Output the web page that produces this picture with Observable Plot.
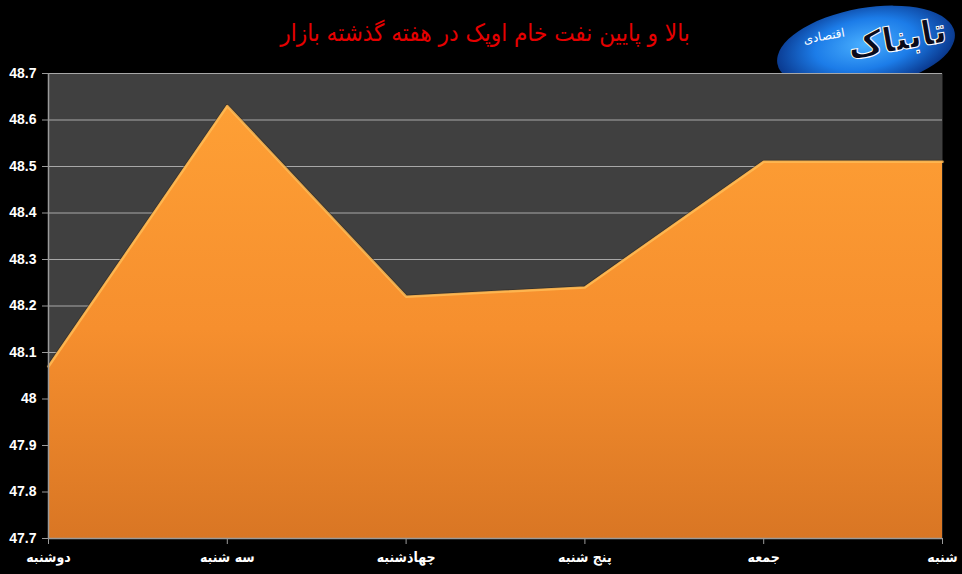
<!DOCTYPE html>
<html>
<head>
<meta charset="utf-8">
<script src="https://cdn.jsdelivr.net/npm/d3@7"></script>
<script src="https://cdn.jsdelivr.net/npm/@observablehq/plot@0.6"></script>
<style>
  html, body { margin: 0; padding: 0; background: #000; }
  #wrap { position: relative; width: 962px; height: 574px; background: #000; overflow: hidden; }
  #title { position: absolute; left: 0; top: 0; width: 962px; height: 55px; text-align: center;
    color: #e60000; font-family: "DejaVu Sans Condensed", "DejaVu Sans", sans-serif; font-size: 24px;
    line-height: 66px; direction: rtl; z-index: 2; }
  #title span { position: relative; left: 4px; }
  #logo { position: absolute; left: 776px; top: 8px; width: 180px; height: 80px; border-radius: 50%;
    background: radial-gradient(ellipse at 50% 45%, #4ab0ff 0%, #1c7ce8 40%, #0b3d94 70%, rgba(0,0,0,0) 100%);
    transform: rotate(-10deg); z-index: 0; }
  #logo .big { position: absolute; right: 8px; top: 16px; font-family: "DejaVu Sans", sans-serif; font-weight: bold;
    font-size: 34px; color: #0a0a1a; -webkit-text-stroke: 1px #ffffff; direction: rtl; }
  #logo .small { position: absolute; left: 30px; top: 14px; font-family: "DejaVu Sans", sans-serif; font-size: 12px;
    color: #fff; direction: rtl; }
  #chart { position: absolute; left: 0; top: 55px; z-index: 1; }
</style>
</head>
<body>
<div id="wrap">
  <div id="logo"><span class="big">تابناک</span><span class="small">اقتصادی</span></div>
  <div id="title"><span>بالا و پایین نفت خام اوپک در هفته گذشته بازار</span></div>
  <div id="chart"></div>
</div>
<script>
const days = ["دوشنبه", "سه شنبه", "چهاذشنبه", "پنج شنبه", "جمعه", "شنبه"];
const values = [48.07, 48.63, 48.22, 48.24, 48.51, 48.51];
const yTicks = [47.7, 47.8, 47.9, 48.0, 48.1, 48.2, 48.3, 48.4, 48.5, 48.6, 48.7];
const yMin = 47.7, yMax = 48.7;

const data = days.map((d, i) => ({ i, day: d, value: values[i] }));

const W = 962, H = 519;
const chart = Plot.plot({
  width: W,
  height: H,
  marginLeft: 48,
  marginRight: 20,
  marginTop: 18,
  marginBottom: 36,
  style: { background: "transparent", overflow: "visible" },
  x: { domain: [0, days.length - 1] },
  y: { domain: [yMin, yMax] },
  marks: [
    Plot.frame({ fill: "#404040", stroke: null }),
    Plot.gridY(yTicks, { stroke: "#a8a8a8", strokeOpacity: 1, strokeWidth: 1 }),
    Plot.lineY(data, { x: "i", y: "value", stroke: "#2a2018", strokeWidth: 4, strokeOpacity: 0.5, curve: "linear" }),
    Plot.areaY(data, { x: "i", y1: yMin, y2: "value", fill: "url(#orangeGrad)", curve: "linear" }),
    Plot.lineY(data, { x: "i", y: "value", stroke: "#ffbb55", strokeWidth: 2.5, strokeOpacity: 0.85, curve: "linear" }),
    Plot.ruleX([0], { stroke: "#9a9a9a", strokeWidth: 1.5 }),
    Plot.ruleY([yMin], { stroke: "#9a9a9a", strokeWidth: 1.5 }),
    Plot.axisY(yTicks, {
      tickSize: 6, tickPadding: 6, stroke: "#9a9a9a", fill: "#ffffff",
      tickFormat: d => String(+d.toFixed(1)),
      fontSize: 14, fontWeight: "bold", fontFamily: "Liberation Sans, Arial, sans-serif",
      label: null
    }),
    Plot.axisX(d3.range(days.length), {
      tickSize: 6, tickPadding: 8, stroke: "#9a9a9a", fill: "#ffffff",
      tickFormat: i => days[i],
      fontSize: 14, fontWeight: "bold", fontFamily: "DejaVu Sans Condensed, DejaVu Sans, sans-serif",
      label: null
    })
  ]
});

// gradient definition for the area fill
const ns = "http://www.w3.org/2000/svg";
const defs = document.createElementNS(ns, "defs");
const grad = document.createElementNS(ns, "linearGradient");
grad.setAttribute("id", "orangeGrad");
grad.setAttribute("gradientUnits", "userSpaceOnUse");
grad.setAttribute("x1", "0"); grad.setAttribute("x2", "0");
grad.setAttribute("y1", "18"); grad.setAttribute("y2", String(H - 36));
[["0", "#ffa236"], ["0.55", "#f68f2e"], ["1", "#d97624"]].forEach(([o, c]) => {
  const s = document.createElementNS(ns, "stop");
  s.setAttribute("offset", o); s.setAttribute("stop-color", c);
  grad.appendChild(s);
});
defs.appendChild(grad);
chart.insertBefore(defs, chart.firstChild);

document.getElementById("chart").appendChild(chart);
</script>
</body>
</html>
